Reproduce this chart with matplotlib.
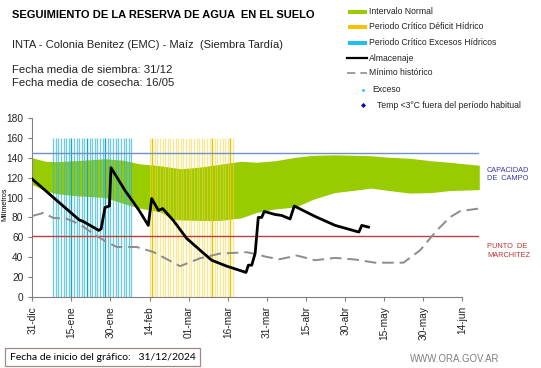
import matplotlib
matplotlib.use("Agg")
import matplotlib.pyplot as plt
from matplotlib.lines import Line2D
from matplotlib.patches import Rectangle

plt.rcParams['font.family'] = ['Liberation Sans', 'DejaVu Sans']

# ---------------- data (days since 31-dic) ----------------
tick_days = [0, 15, 30, 45, 60, 75, 90, 105, 120, 135, 150, 165]
tick_labels = ['31-dic', '15-ene', '30-ene', '14-feb', '01-mar', '16-mar',
               '31-mar', '15-abr', '30-abr', '15-may', '30-may', '14-jun']

band_days = [0, 5, 9, 16, 28, 35, 41, 43, 49, 54, 57, 64, 72, 80, 86, 93, 101,
             108, 116, 124, 130, 137, 145, 153, 160, 171.5]
band_upper = [140, 136.5, 136, 137, 139, 137.5, 134, 133.5, 132, 130, 129, 130.5,
              133.5, 136.5, 135.5, 137, 140.5, 142.5, 143, 142.5, 142, 140.5,
              139.5, 137, 135.5, 132.5]
band_lower = [113, 107, 104, 102, 100, 94, 89.5, 88.5, 85.5, 78, 77.5, 77, 77,
              79.5, 85, 88.5, 90.5, 98.5, 105, 107.5, 109.5, 107, 104.5, 105,
              107, 108]

alm_days = [0, 18, 19.5, 25.5, 26.4, 27.9, 29, 29.6, 30.2, 35.6, 41, 44.5, 45.8,
            48.4, 50, 54.1, 59.2, 64.4, 68.8, 74.6, 82, 82.9, 84.2, 85.5, 86.7,
            88, 89, 93.1, 95.7, 98.9, 100.5, 108.5, 116.2, 125.3, 126.4, 129]
alm_vals = [118.5, 77.5, 76, 67, 68.5, 90, 91, 91.5, 130, 107, 87, 72, 99, 87,
            89, 77, 59, 47, 37, 31, 24.7, 32, 32, 44, 80, 80, 86, 83, 82, 78.5,
            91.5, 81, 72, 65.3, 72, 70.3]

min_days = [0, 4.2, 8.1, 13.2, 18.3, 23.4, 28.5, 32.4, 40, 46.4, 56.7, 64.4, 72,
            82.3, 86.1, 89.9, 95, 101.5, 108.5, 116.2, 123.8, 131.5, 142.4,
            148.8, 155.2, 160.3, 164.1, 171.5]
min_vals = [81.5, 84.5, 79.5, 78.7, 73, 63.7, 55.3, 50.3, 50.3, 45.3, 31, 39,
            43.7, 45, 43, 40.3, 38, 41.7, 37, 39.3, 37.7, 34.5, 34.5, 47, 67,
            80.3, 86.3, 89]

exceso_days = list(range(8, 39))
exceso_dark = [15, 21, 28]
deficit_days = list(range(45, 78))
deficit_dark = [46, 69, 76]
period_top = 160

capacidad_campo = 144.7
punto_marchitez = 61.5

# ---------------- figure ----------------
W, H = 541, 368
fig = plt.figure(figsize=(W / 100, H / 100), dpi=100)


def fx(px):
    return px / W


def fy(py):
    return 1 - py / H


ax = fig.add_axes([fx(32.3), fy(297), (479.3 - 32.3) / W, (297 - 118) / H])
ax.set_xlim(0, 171.5)
ax.set_ylim(0, 180)

ax.fill_between(band_days, band_lower, band_upper, color='#99cc00', lw=0, zorder=1)

ax.vlines([d for d in exceso_days if d not in exceso_dark], 0, period_top,
          color='#33b5d5', lw=0.95, alpha=0.7, zorder=2)
ax.vlines(exceso_dark, 0, period_top, color='#1aa5c8', lw=1.0, zorder=2)
ax.vlines([d for d in deficit_days if d not in deficit_dark], 0, period_top,
          color='#f2d640', lw=0.95, alpha=0.55, zorder=2)
ax.vlines(deficit_dark, 0, period_top, color='#e6c200', lw=1.0, zorder=2)

ax.axhline(capacidad_campo, color='#7090c8', lw=1.0, zorder=3)
ax.axhline(punto_marchitez, color='#b84040', lw=1.0, zorder=3)

ax.plot(min_days, min_vals, color='#8c8c8c', lw=1.4, dashes=(6, 3), zorder=4)
ax.plot(alm_days, alm_vals, color='black', lw=2.0, zorder=5, solid_joinstyle='round')

for s in ['top', 'right']:
    ax.spines[s].set_visible(False)
ax.spines['left'].set_color('#808080')
ax.spines['bottom'].set_color('#808080')
ax.spines['bottom'].set_bounds(0, 165)
ax.set_yticks(range(0, 181, 20))
ax.set_xticks(tick_days)
ax.set_xticklabels(tick_labels, rotation=90)
ax.tick_params(axis='both', colors='#808080', labelcolor='#222222',
               labelsize=7.3, length=3, width=0.8)
fig.text(fx(4.5), fy(204), 'Milímetros', fontsize=5.2, rotation=90,
         ha='center', va='center')

# side labels
fig.text(fx(487), fy(174.5), 'CAPACIDAD\nDE  CAMPO', color='#3838b0', fontsize=5.3,
         ha='left', va='center', linespacing=1.25)
fig.text(fx(487), fy(251), 'PUNTO  DE\nMARCHITEZ', color='#c03030', fontsize=5.3,
         ha='left', va='center', linespacing=1.25)

# header texts
fig.text(fx(12), fy(15), 'SEGUIMIENTO DE LA RESERVA DE AGUA  EN EL SUELO',
         fontsize=8.0, fontweight='bold', ha='left', va='center')
fig.text(fx(12), fy(45), 'INTA - Colonia Benitez (EMC) - Maíz  (Siembra Tardía)',
         fontsize=8.0, color='#222222', ha='left', va='center')
fig.text(fx(12), fy(70), 'Fecha media de siembra: 31/12', fontsize=8.2,
         color='#222222', ha='left', va='center')
fig.text(fx(12), fy(82.5), 'Fecha media de cosecha: 16/05', fontsize=8.2,
         color='#222222', ha='left', va='center')

# legend (manual)
leg_rows = [11.7, 26.7, 42.7, 58.3, 72.7, 90, 105]
leg_labels = ['Intervalo Normal', 'Periodo Crítico Déficit Hídrico',
              'Periodo Crítico Excesos Hídricos', 'Almacenaje', 'Mínimo histórico',
              'Exceso', 'Temp <3°C fuera del período habitual']
for col, y in zip(['#99cc00', '#ffc000', '#1fc0ee'], leg_rows[:3]):
    fig.patches.append(Rectangle((fx(348), fy(y + 2)), 19 / W, 4 / H,
                                 transform=fig.transFigure, color=col, lw=0))
fig.lines.append(Line2D([fx(347), fx(367)], [fy(leg_rows[3])] * 2, color='black',
                        lw=1.6, transform=fig.transFigure))
fig.lines.append(Line2D([fx(347), fx(367)], [fy(leg_rows[4])] * 2, color='#8c8c8c',
                        lw=1.2, dashes=(5, 3), transform=fig.transFigure))
fig.lines.append(Line2D([fx(363)], [fy(leg_rows[5])], marker='o', ms=2,
                        color='#1fc0ee', mec='none', transform=fig.transFigure))
fig.lines.append(Line2D([fx(363)], [fy(leg_rows[6])], marker='D', ms=2.6,
                        color='#10109a', mec='none', transform=fig.transFigure))
leg_x = [369, 369, 369, 369, 369, 372, 377]
for lab, y, x in zip(leg_labels, leg_rows, leg_x):
    fig.text(fx(x), fy(y), lab, fontsize=6.2, color='#222222', ha='left', va='center')

# footer
fig.text(fx(10), fy(357), 'Fecha de inicio del gráfico:   31/12/2024', fontsize=7.5,
         family=['Lato', 'DejaVu Sans'], ha='left', va='center',
         bbox=dict(boxstyle='square,pad=0.45', fc='white', ec='#a08888', lw=0.9))
fig.text(fx(410), fy(359), 'WWW.ORA.GOV.AR', fontsize=6.9, color='#7f7f7f',
         ha='left', va='center')

fig.savefig('out.png', dpi=100)
